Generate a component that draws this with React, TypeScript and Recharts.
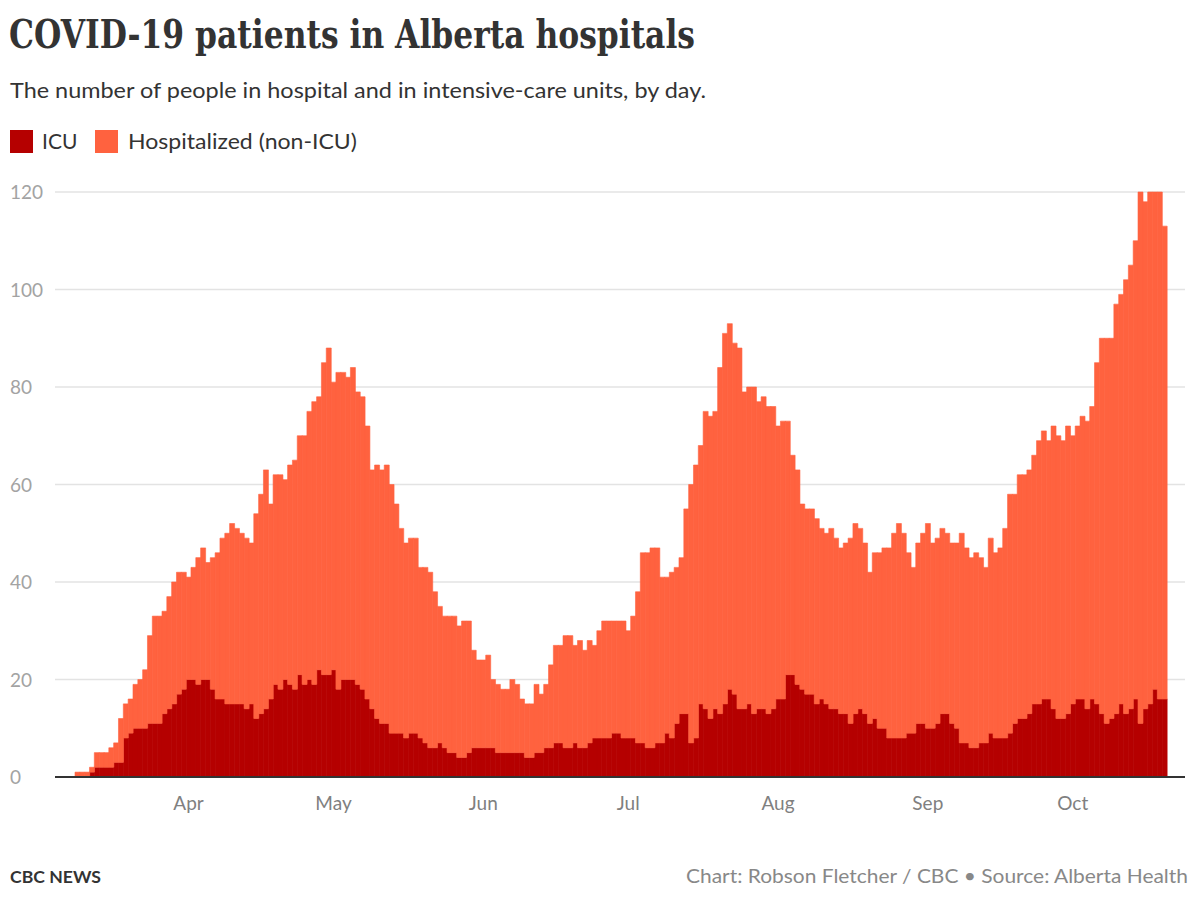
import React from "react";
import { BarChart, Bar, XAxis, YAxis, CartesianGrid } from "recharts";

// Daily data, Mar 9 .. Oct 20
const startDate = "2020-03-09";

const totalHospitalized = [
  1, 1, 1, 2, 5, 5, 5, 6, 7, 12,
  15, 16, 19, 20, 22, 29, 33, 33, 34, 37,
  40, 42, 42, 41, 43, 45, 47, 44, 45, 46,
  49, 50, 52, 51, 50, 49, 48, 54, 58, 63,
  56, 62, 62, 61, 64, 65, 70, 70, 75, 77,
  78, 85, 88, 81, 83, 83, 82, 84, 79, 78,
  72, 63, 64, 63, 64, 60, 56, 51, 48, 49,
  49, 43, 43, 42, 38, 35, 33, 33, 33, 31,
  32, 32, 26, 24, 24, 25, 20, 19, 18, 18,
  20, 19, 16, 15, 15, 19, 17, 19, 23, 27,
  27, 29, 29, 27, 28, 26, 28, 27, 30, 32,
  32, 32, 32, 32, 30, 33, 38, 46, 46, 47,
  47, 41, 41, 42, 43, 45, 55, 60, 64, 68,
  75, 74, 75, 84, 91, 93, 89, 88, 79, 80,
  80, 77, 78, 76, 76, 72, 73, 73, 66, 63,
  56, 55, 55, 53, 51, 50, 51, 49, 47, 48,
  49, 52, 51, 48, 42, 46, 46, 47, 47, 50,
  52, 50, 46, 43, 48, 50, 52, 48, 49, 51,
  50, 48, 48, 50, 47, 45, 46, 45, 43, 49,
  46, 47, 51, 58, 58, 62, 62, 63, 66, 69,
  71, 69, 72, 70, 69, 72, 70, 72, 74, 73,
  76, 85, 90, 90, 90, 97, 99, 102, 105, 110,
  120, 118, 120, 120, 120, 113,
];

const icu = [
  0, 0, 0, 1, 2, 2, 2, 2, 3, 3,
  8, 9, 10, 10, 10, 11, 11, 11, 13, 14,
  15, 17, 18, 20, 20, 19, 20, 20, 18, 16,
  16, 15, 15, 15, 15, 14, 15, 12, 13, 14,
  16, 19, 18, 20, 19, 18, 21, 19, 20, 19,
  22, 21, 21, 22, 18, 20, 20, 20, 19, 18,
  16, 14, 12, 11, 11, 9, 9, 9, 8, 9,
  9, 8, 7, 6, 6, 7, 6, 5, 5, 4,
  4, 5, 6, 6, 6, 6, 6, 5, 5, 5,
  5, 5, 5, 4, 4, 5, 5, 6, 6, 7,
  7, 6, 6, 7, 6, 6, 7, 8, 8, 8,
  8, 9, 9, 8, 8, 8, 7, 7, 6, 6,
  7, 7, 9, 8, 11, 13, 13, 7, 8, 15,
  14, 12, 14, 13, 15, 18, 17, 14, 14, 15,
  13, 14, 14, 13, 14, 16, 16, 21, 21, 19,
  18, 17, 17, 15, 16, 15, 14, 14, 13, 13,
  11, 13, 14, 13, 11, 12, 10, 10, 8, 8,
  8, 8, 9, 9, 11, 11, 10, 10, 11, 13,
  13, 11, 10, 7, 7, 6, 6, 7, 7, 9,
  8, 8, 8, 9, 11, 12, 12, 13, 15, 15,
  16, 16, 14, 12, 12, 13, 15, 16, 16, 14,
  16, 15, 13, 11, 12, 13, 15, 13, 14, 16,
  11, 14, 15, 18, 16, 16,
];

const monthTickDates = ["2020-04-01", "2020-05-01", "2020-06-01", "2020-07-01", "2020-08-01", "2020-09-01", "2020-10-01"];
const monthTickLabels = ["Apr", "May", "Jun", "Jul", "Aug", "Sep", "Oct"];
const yTicks = [0, 20, 40, 60, 80, 100, 120];

const ICU_COLOR = "#b50000";
const HOSP_COLOR = "#ff623f";

function isoDay(offset: number): string {
  const d = new Date(startDate + "T00:00:00Z");
  d.setUTCDate(d.getUTCDate() + offset);
  return d.toISOString().slice(0, 10);
}

const rows = totalHospitalized.map((t, i) => ({
  date: isoDay(i),
  icu: icu[i],
  nonIcu: t - icu[i],
}));

const SANS = "Lato, 'Open Sans', sans-serif";

const renderYTick = (props: any) => {
  const { y, payload } = props;
  return (
    <text key={`y-${payload.value}`} x={10} y={y} dy={7} textAnchor="start" fill="#a3a3a3" fontSize={19} fontFamily={SANS}>
      {payload.value}
    </text>
  );
};

const renderXTick = (props: any) => {
  const { x, payload } = props;
  const idx = monthTickDates.indexOf(payload.value);
  return (
    <text key={`x-${payload.value}`} x={x} y={810} textAnchor="middle" fill="#808080" fontSize={19} fontFamily={SANS}>
      {idx >= 0 ? monthTickLabels[idx] : ""}
    </text>
  );
};

export default function App() {
  return (
    <div style={{ position: "absolute", left: 0, top: 0, width: 1200, height: 905, background: "#fff" }}>
      <div style={{ position: "absolute", left: 0, top: 0 }}>
        <BarChart
          width={1200}
          height={905}
          data={rows}
          margin={{ top: 192, right: 15, left: 0, bottom: 98 }}
          barCategoryGap={0}
          barGap={0}
        >
          <CartesianGrid horizontal vertical={false} stroke="#e3e3e3" strokeWidth={1.5} />
          <YAxis
            domain={[0, 120]}
            ticks={yTicks}
            width={55}
            axisLine={false}
            tickLine={false}
            tick={renderYTick}
            interval={0}
          />
          <XAxis
            dataKey="date"
            ticks={monthTickDates}
            interval={0}
            height={30}
            padding={{ left: 20, right: 18 }}
            axisLine={{ stroke: "#333", strokeWidth: 2 }}
            tickLine={false}
            tick={renderXTick}
          />
          <Bar dataKey="icu" stackId="a" fill={ICU_COLOR} stroke={ICU_COLOR} strokeWidth={0.6} isAnimationActive={false} />
          <Bar dataKey="nonIcu" stackId="a" fill={HOSP_COLOR} stroke={HOSP_COLOR} strokeWidth={0.6} isAnimationActive={false} />
        </BarChart>
      </div>
      <svg width={1200} height={905} style={{ position: "absolute", left: 0, top: 0, pointerEvents: "none" }}>
        <text
          x={9}
          y={48}
          fill="#333"
          fontSize={40}
          fontWeight="bold"
          fontFamily="'DejaVu Serif Condensed', 'DejaVu Serif', serif"
          textLength={686}
          lengthAdjust="spacingAndGlyphs"
        >
          COVID-19 patients in Alberta hospitals
        </text>
        <text x={10} y={98} fill="#333" fontSize={21} fontFamily={SANS} textLength={696} lengthAdjust="spacingAndGlyphs">
          The number of people in hospital and in intensive-care units, by day.
        </text>
        <rect x={10} y={130} width={23} height={23} fill={ICU_COLOR} />
        <text x={42} y={149} fill="#333" fontSize={21} fontFamily={SANS}>ICU</text>
        <rect x={95} y={130} width={23} height={23} fill={HOSP_COLOR} />
        <text x={128} y={149} fill="#333" fontSize={21} fontFamily={SANS} textLength={229} lengthAdjust="spacingAndGlyphs">
          Hospitalized (non-ICU)
        </text>
        <text x={10} y={883} fill="#333" fontSize={17} fontWeight="bold" fontFamily={SANS} textLength={91} lengthAdjust="spacingAndGlyphs">
          CBC NEWS
        </text>
        <text x={1188} y={883} fill="#888" fontSize={20} fontFamily={SANS} textAnchor="end" textLength={502} lengthAdjust="spacingAndGlyphs">
          Chart: Robson Fletcher / CBC • Source: Alberta Health
        </text>
      </svg>
    </div>
  );
}
